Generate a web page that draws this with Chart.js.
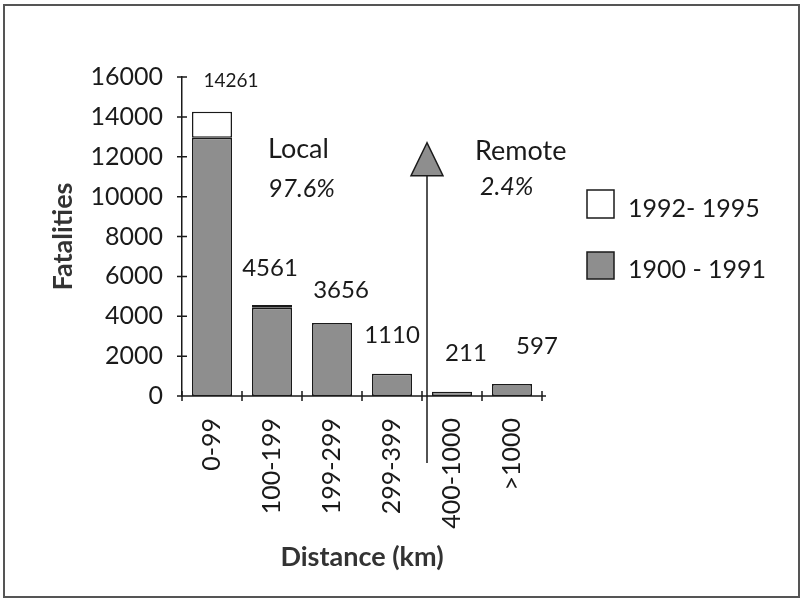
<!DOCTYPE html>
<html>
<head>
<meta charset="utf-8">
<script src="https://cdn.jsdelivr.net/npm/chart.js@4.4.1/dist/chart.umd.min.js"></script>
<style>
	html, body { margin: 0; padding: 0; background: #fff; }
	#wrap { width: 802px; height: 603px; position: relative; }
</style>
</head>
<body>
<div id="wrap"><canvas id="cnvFatal" width="802" height="603"></canvas></div>
<script>
// distance classes (km)
var categories = ["0-99", "100-199", "199-299", "299-399", "400-1000", ">1000"];
// fatalities per period
var deaths1900_1991 = [12950, 4430, 3656, 1110, 211, 597];
var deaths1992_1995 = [1311, 131, 0, 0, 0, 0];
var totals = [14261, 4561, 3656, 1110, 211, 597];
var yTicks = [0, 2000, 4000, 6000, 8000, 10000, 12000, 14000, 16000];

// where the total labels sit relative to the bar tops (px)
var labelDx = [19, -2, 9, 0, 14, 25];
var labelGap = [25, 29, 25, 31, 31, 30];

var FONT = "Lato, 'DejaVu Sans', sans-serif";
var GRAY = "#8e8e8e";
var INK = "#1a1a1a";

var extras = {
	id: "extras",
	beforeDraw: function(chart){
		var c = chart.ctx;
		c.save();
		c.fillStyle = "#fff";
		c.fillRect(0, 0, chart.width, chart.height);
		c.restore();
	},
	afterDraw: function(chart){
		var c = chart.ctx;
		var x = chart.scales.x, y = chart.scales.y;
		var area = chart.chartArea;
		c.save();

		// crossing tick marks on both axes
		c.strokeStyle = INK;
		c.lineWidth = 1.5;
		c.beginPath();
		yTicks.forEach(function(v){
			var py = y.getPixelForValue(v);
			c.moveTo(area.left - 5, py);
			c.lineTo(area.left + 5, py);
		});
		for (var i = 0; i <= categories.length; i++){
			var px = x.getPixelForValue(i - 0.5);
			c.moveTo(px, area.bottom - 5);
			c.lineTo(px, area.bottom + 5);
		}
		c.moveTo(area.left - 4, area.bottom);
		c.lineTo(area.right + 4, area.bottom);
		c.stroke();

		// totals above bars
		c.fillStyle = INK;
		c.textAlign = "center";
		c.textBaseline = "alphabetic";
		totals.forEach(function(v, i){
			c.font = (i === 0 ? "19px " : "24px ") + FONT;
			c.fillText(String(v), x.getPixelForValue(i) + labelDx[i], y.getPixelForValue(v) - labelGap[i]);
		});

		// local / remote split arrow
		var ax = (x.getPixelForValue(3) + x.getPixelForValue(4)) / 2 + 5;
		var tip = y.getPixelForValue(12700);
		var base = y.getPixelForValue(11050);
		c.beginPath();
		c.moveTo(ax, area.bottom + 67);
		c.lineTo(ax, base);
		c.stroke();
		c.beginPath();
		c.moveTo(ax, tip);
		c.lineTo(ax - 16, base);
		c.lineTo(ax + 16, base);
		c.closePath();
		c.fillStyle = GRAY;
		c.fill();
		c.stroke();

		c.fillStyle = INK;
		c.textAlign = "left";
		c.font = "27px " + FONT;
		c.fillText("Local", 268, 158);
		c.fillText("Remote", 475, 160);
		c.font = "italic 25px " + FONT;
		c.fillText("97.6%", 268, 197);
		c.fillText("2.4%", 480, 195);

		// legend
		c.lineWidth = 1.5;
		c.fillStyle = "#fff";
		c.fillRect(587, 190, 27, 28);
		c.strokeRect(587, 190, 27, 28);
		c.fillStyle = GRAY;
		c.fillRect(587, 252, 27, 27);
		c.strokeRect(587, 252, 27, 27);
		c.fillStyle = INK;
		c.font = "25px " + FONT;
		c.textBaseline = "middle";
		c.fillText("1992- 1995", 628, 209);
		c.fillText("1900 - 1991", 628, 270);

		// frame
		c.strokeStyle = "#555";
		c.lineWidth = 2;
		c.strokeRect(4, 5, 795, 592);
		c.restore();
	}
};

new Chart(document.getElementById("cnvFatal").getContext("2d"), {
	type: "bar",
	data: {
		labels: categories,
		datasets: [
			{
				label: "1900 - 1991",
				data: deaths1900_1991,
				backgroundColor: GRAY,
				borderColor: INK,
				borderWidth: 1.5,
				borderSkipped: false
			},
			{
				label: "1992- 1995",
				data: deaths1992_1995,
				backgroundColor: "#fff",
				borderColor: INK,
				borderWidth: 1.5,
				borderSkipped: false
			}
		]
	},
	options: {
		responsive: false,
		animation: false,
		devicePixelRatio: 1,
		categoryPercentage: 1,
		barPercentage: 0.667,
		layout: { padding: { left: 43, right: 260, top: 77, bottom: 26 } },
		plugins: { legend: { display: false }, tooltip: { enabled: false } },
		scales: {
			x: {
				stacked: true,
				grid: { display: false, drawTicks: false },
				border: { display: false },
				ticks: { color: INK, font: { family: FONT, size: 25 }, minRotation: 90, maxRotation: 90, padding: 22, autoSkip: false },
				title: { display: true, text: "Distance (km)", color: "#333", font: { family: FONT, size: 27, weight: "bold" } },
				afterFit: function(s){ s.height = 181; }
			},
			y: {
				stacked: true,
				min: 0,
				max: 16000,
				grid: { display: false, drawTicks: false },
				border: { display: true, color: INK, width: 1.5 },
				ticks: {
					stepSize: 2000, color: INK, font: { family: FONT, size: 25 }, padding: 19,
					callback: function(v){ return String(v); }
				},
				title: { display: true, text: "Fatalities", color: "#333", font: { family: FONT, size: 27, weight: "bold" } },
				afterFit: function(s){ s.width = 139; }
			}
		}
	},
	plugins: [extras]
});
</script>
</body>
</html>
